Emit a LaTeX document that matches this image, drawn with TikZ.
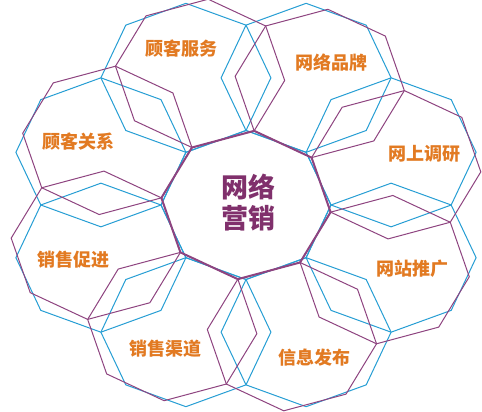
\documentclass[tikz,border=0pt]{standalone}
\usepackage{fontspec}
\newfontfamily\cjk{Noto Sans CJK SC}
\definecolor{octpurple}{RGB}{142,68,128}
\definecolor{octblue}{RGB}{38,158,212}
\definecolor{lblorange}{RGB}{226,122,34}
\definecolor{ctrpurple}{RGB}{128,48,108}
% #1 style, #2 direction of centre, #3 distance of centre, #4 orientation
\newcommand{\octagonshape}[4]{%
  \draw[#1] ({246+85*(#3*cos(#2)+cos(#4))},{205-74.5*(#3*sin(#2)+sin(#4))})
    \foreach \t in {1,...,7} { -- ({246+85*(#3*cos(#2)+cos(#4+45*\t))},{205-74.5*(#3*sin(#2)+sin(#4+45*\t))}) } -- cycle;
}
\begin{document}
\begin{tikzpicture}[x=1pt,y=-1pt,
  purpline/.style={draw=octpurple, line width=1pt, line join=miter},
  blueline/.style={draw=octblue, line width=1pt, line join=miter},
  lbl/.style={text=lblorange, font=\cjk\bfseries\fontsize{18}{20}\selectfont, inner sep=0pt},
  core/.style={text=ctrpurple, font=\cjk\bfseries\fontsize{27}{31}\selectfont, inner sep=0pt, align=center}]
\useasboundingbox (0,0) rectangle (482,412);
\fill[white] (0,0) rectangle (482,412);
% blue family
\octagonshape{blueline}{0}{0}{0}
\foreach \k in {0,...,7} { \octagonshape{blueline}{22.5+45*\k}{1.8478}{0} }
% purple family
\foreach \k in {0,...,7} { \octagonshape{purpline}{17+45*\k}{1.8478}{-5.5} }
\octagonshape{purpline, line width=2pt}{0}{0}{-5.5}
% labels
\node[lbl] (gkfw) at (181,49) {顾客服务};
\node[lbl] (wlpp) at (331,63) {网络品牌};
\node[lbl] (wsdy) at (424.5,153.5) {网上调研};
\node[lbl] (wztg) at (412.5,269) {网站推广};
\node[lbl] (xxfb) at (314,357.5) {信息发布};
\node[lbl] (xsqd) at (165,349) {销售渠道};
\node[lbl] (xscj) at (73.5,260) {销售促进};
\node[lbl] (gkgx) at (78.5,141.5) {顾客关系};
\node[core] (wlyx) at (248,203) {网络\\营销};
\end{tikzpicture}
\end{document}
